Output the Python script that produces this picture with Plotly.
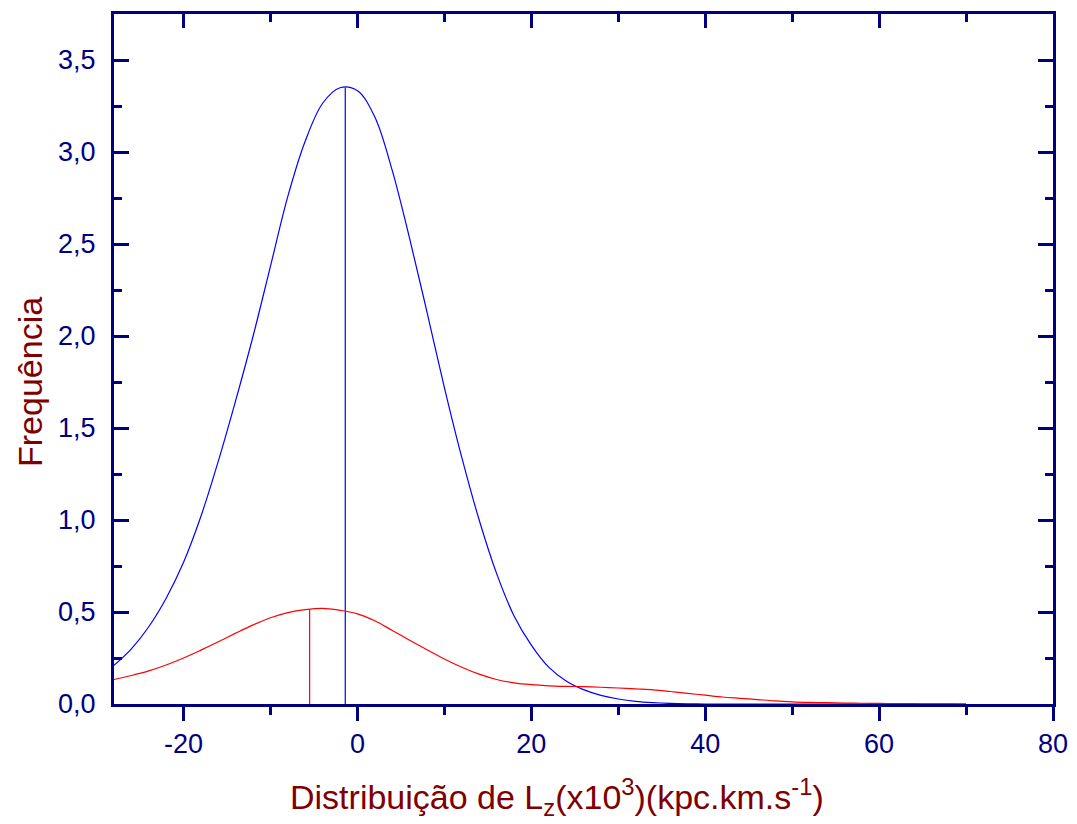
import plotly.graph_objects as go

# Distribution curves of Lz (x10^3 kpc.km/s), sampled every 2 units
lz_x = [-28, -26, -24, -22, -20, -18, -16, -14, -12, -10, -8, -6, -4, -2, 0, 2, 4, 6, 8, 10,
        12, 14, 16, 18, 20, 22, 24, 26, 28, 30, 32, 34, 36, 38, 40, 42, 44, 46, 48, 50,
        52, 54, 56, 58, 60, 62, 64, 66, 68, 70]

blue_y = [0.21, 0.30, 0.42, 0.575, 0.77, 1.02, 1.32, 1.65, 2.00, 2.38, 2.76, 3.06, 3.265, 3.349,
          3.333, 3.19, 2.90, 2.53, 2.13, 1.72, 1.34, 1.00, 0.71, 0.48, 0.32, 0.20, 0.125, 0.078,
          0.047, 0.027, 0.014, 0.007, 0.003, 0.001, 0.0, 0.0, 0.0, 0.0, 0.0, 0.0,
          0.0, 0.0, 0.0, 0.0, 0.0, 0.0, 0.0, 0.0, 0.0, 0.0]

red_y = [0.133, 0.155, 0.18, 0.212, 0.25, 0.293, 0.338, 0.385, 0.43, 0.469, 0.497, 0.513, 0.52,
         0.509, 0.49, 0.452, 0.40, 0.347, 0.295, 0.245, 0.20, 0.162, 0.133, 0.115, 0.105, 0.099,
         0.096, 0.094, 0.091, 0.087, 0.082, 0.077, 0.068, 0.058, 0.048, 0.038, 0.031, 0.024,
         0.017, 0.012, 0.009, 0.007, 0.005, 0.004, 0.003, 0.002, 0.0015, 0.001, 0.0005, 0.0]

# Marked centres of each distribution
blue_center_x = -1.4
blue_center_y = 3.35
red_center_x = -5.5
red_center_y = 0.515

x_tick_vals = [-20, 0, 20, 40, 60, 80]
x_tick_text = ["-20", "0", "20", "40", "60", "80"]
y_tick_vals = [0.0, 0.5, 1.0, 1.5, 2.0, 2.5, 3.0, 3.5]
y_tick_text = ["0,0", "0,5", "1,0", "1,5", "2,0", "2,5", "3,0", "3,5"]

x_range = [-28, 80]
y_range = [0, 3.75]

x_title = "Distribuição de L<sub>z</sub>(x10<sup>3</sup>)(kpc.km.s<sup>-1</sup>)"
y_title = "Frequência"

NAVY = "#000080"
DARKRED = "#800000"
FONT = "Liberation Sans, Arial, sans-serif"

fig = go.Figure()
fig.add_trace(go.Scatter(x=lz_x, y=blue_y, mode="lines",
                         line=dict(color="#0000FF", width=1.2, shape="spline", smoothing=1.0),
                         hoverinfo="skip", showlegend=False))
fig.add_trace(go.Scatter(x=[blue_center_x, blue_center_x], y=[0, blue_center_y], mode="lines",
                         line=dict(color="#0000FF", width=1.2),
                         hoverinfo="skip", showlegend=False))
fig.add_trace(go.Scatter(x=lz_x, y=red_y, mode="lines", xaxis="x2",
                         line=dict(color="#FF0000", width=1.2, shape="spline", smoothing=1.0),
                         hoverinfo="skip", showlegend=False))
fig.add_trace(go.Scatter(x=[red_center_x, red_center_x], y=[0, red_center_y], mode="lines",
                         line=dict(color="#FF0000", width=1.2),
                         hoverinfo="skip", showlegend=False))

axis_common = dict(showgrid=False, zeroline=False, showline=True, linecolor=NAVY,
                   linewidth=3, tickcolor=NAVY, tickwidth=2.5, layer="below traces",
                   automargin=False)

fig.update_layout(
    width=1077, height=824,
    margin=dict(l=114, r=24, t=14, b=120),
    paper_bgcolor="white", plot_bgcolor="white",
    separators=",.",
    font=dict(family=FONT, color=NAVY),
    xaxis=dict(**axis_common, range=x_range, tickmode="array", tickvals=x_tick_vals,
               ticktext=x_tick_text, ticks="outside", ticklen=14,
               minor=dict(ticks="outside", ticklen=8, dtick=10, tick0=0,
                          tickcolor=NAVY, tickwidth=2.5),
               tickfont=dict(size=27, color=NAVY, family=FONT)),
    xaxis2=dict(**axis_common, range=x_range, overlaying="x", side="top",
                tickmode="array", tickvals=x_tick_vals, showticklabels=False,
                ticks="inside", ticklen=14,
                minor=dict(ticks="inside", ticklen=8, dtick=10, tick0=0,
                           tickcolor=NAVY, tickwidth=2.5)),
    yaxis=dict(**axis_common, range=y_range, mirror="ticks", tickmode="array",
               tickvals=y_tick_vals, ticktext=y_tick_text, ticks="inside", ticklen=15,
               minor=dict(ticks="inside", ticklen=8, dtick=0.25, tick0=0,
                          tickcolor=NAVY, tickwidth=2.5),
               tickfont=dict(size=27, color=NAVY, family=FONT), ticklabelstandoff=10),
    annotations=[
        dict(text=x_title, xref="paper", yref="paper", x=0.4718, y=0, yshift=-93,
             xanchor="center", yanchor="middle", showarrow=False,
             font=dict(size=34, color=DARKRED, family=FONT)),
        dict(text=y_title, xref="paper", yref="paper", x=0, xshift=-84, y=0.4667,
             xanchor="center", yanchor="middle", textangle=-90, showarrow=False,
             font=dict(size=34, color=DARKRED, family=FONT)),
    ],
)

fig.write_html("out.html")
